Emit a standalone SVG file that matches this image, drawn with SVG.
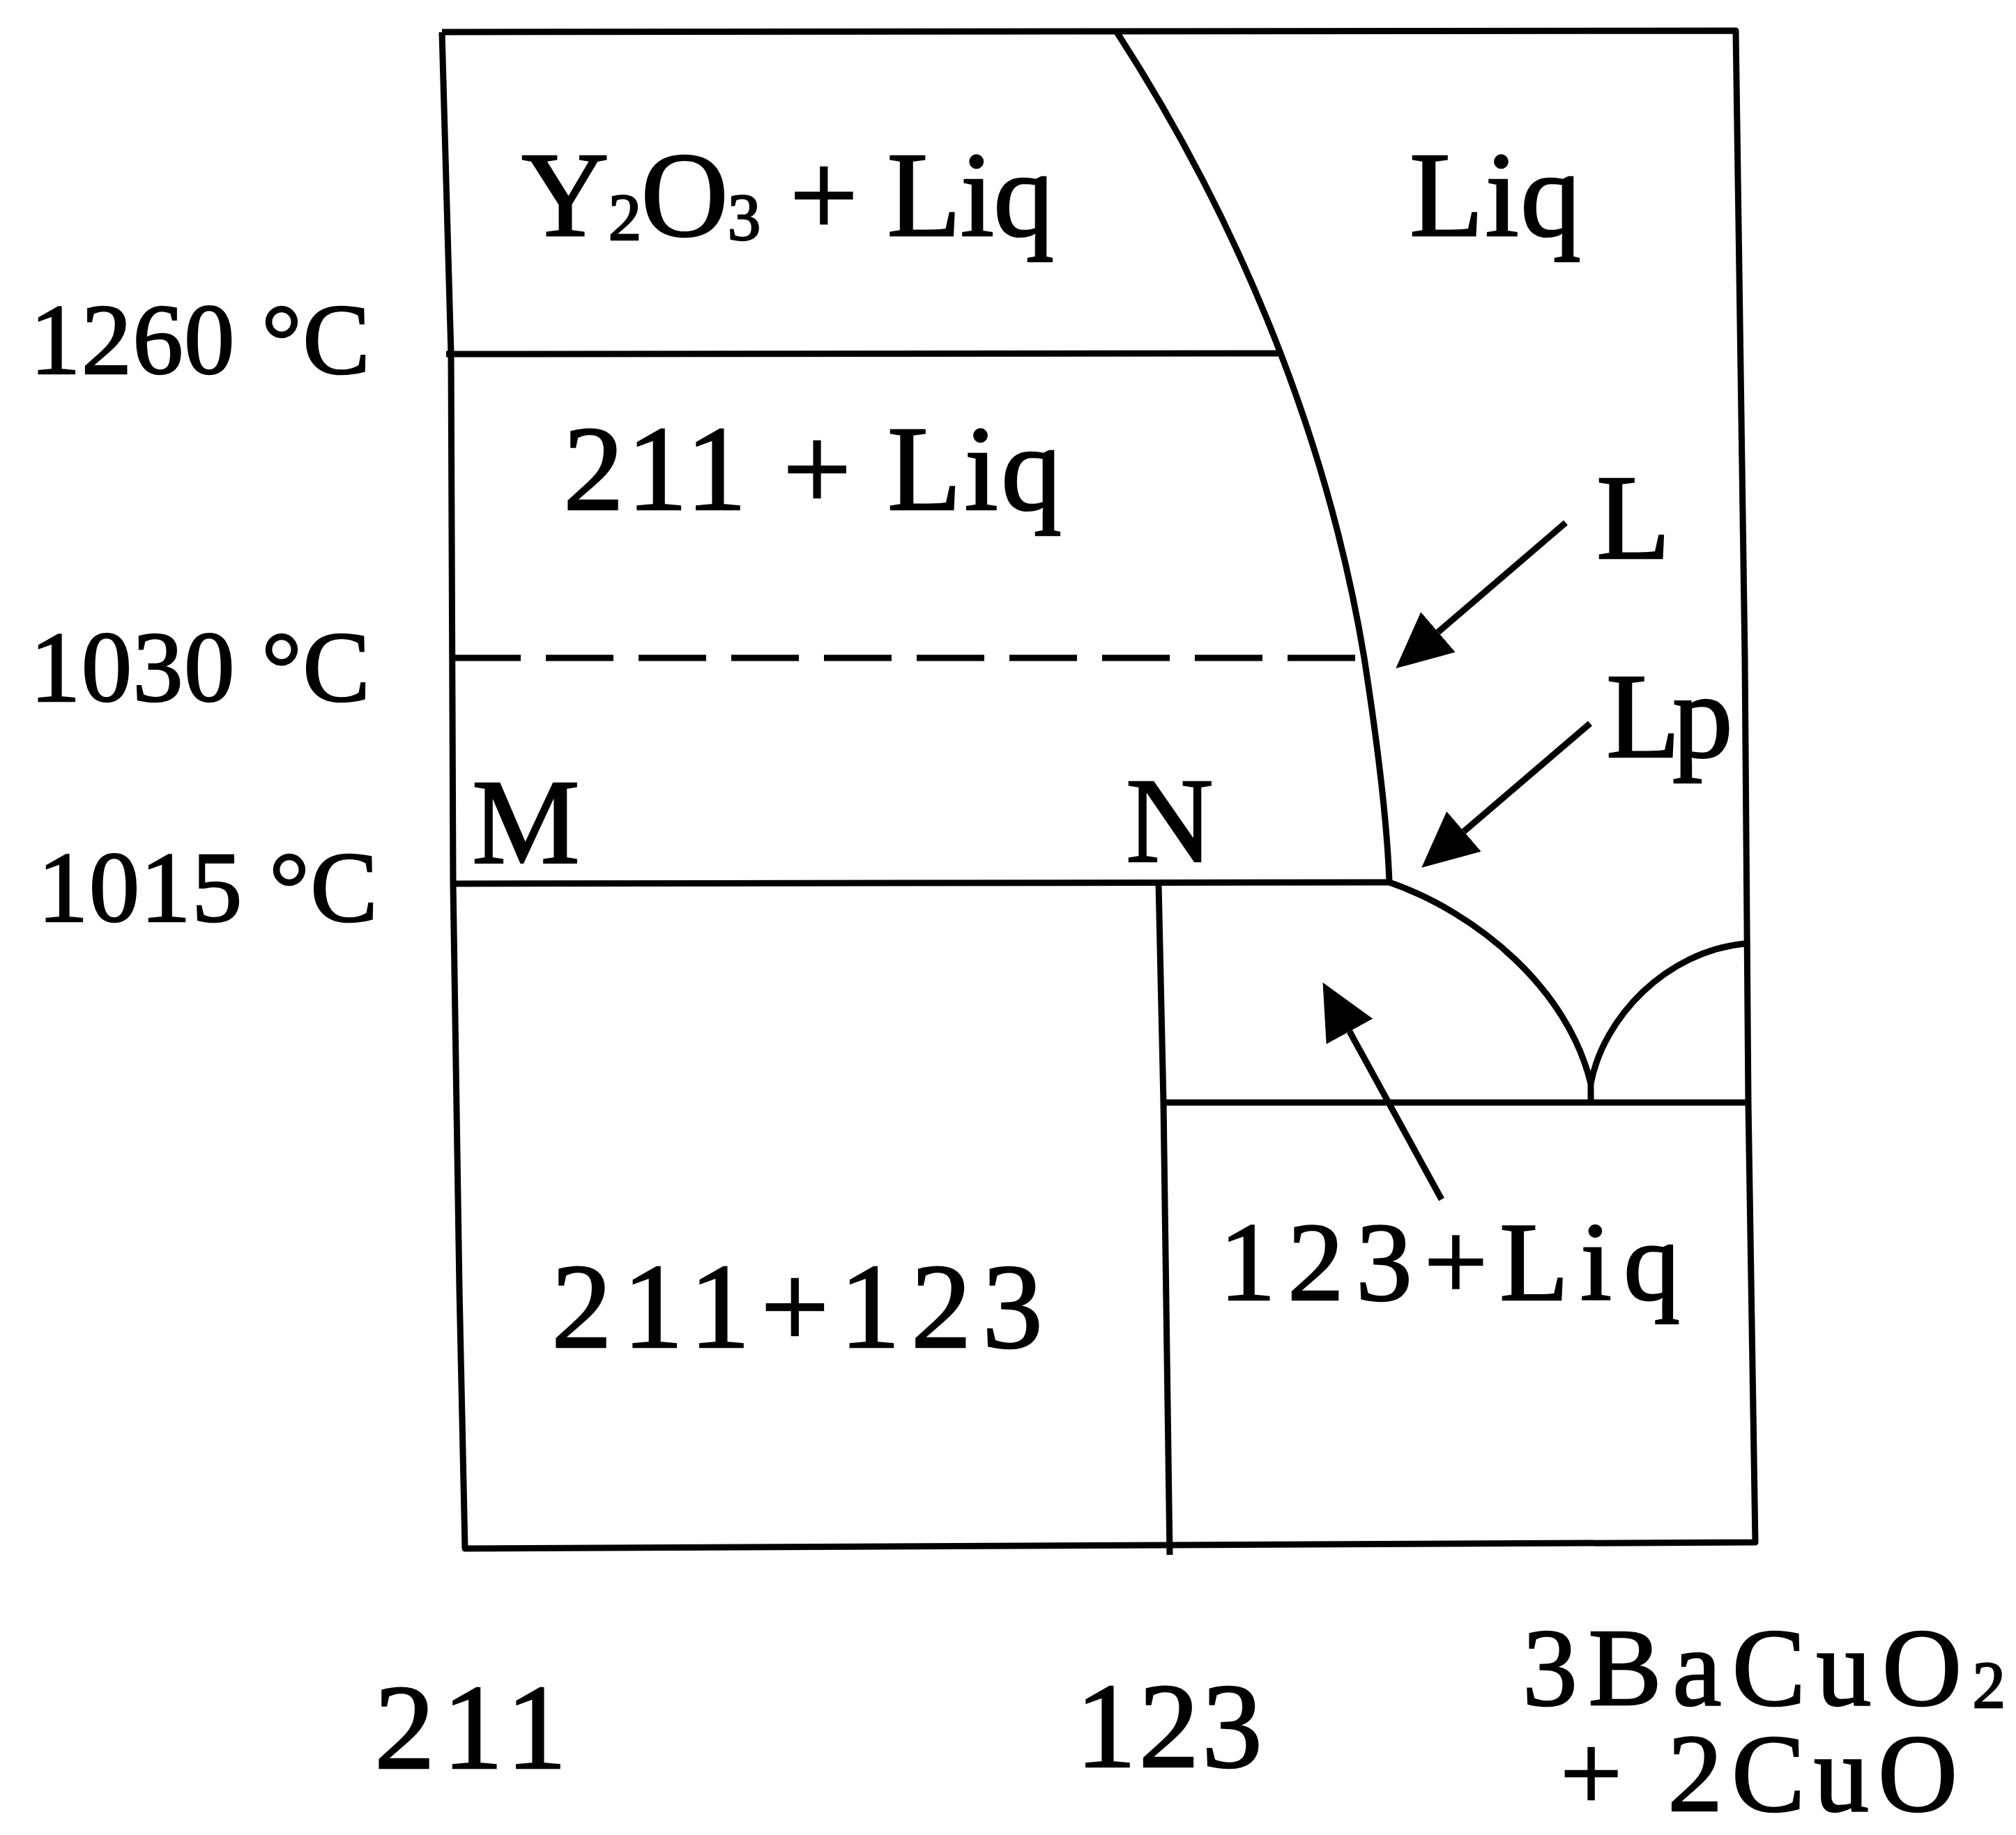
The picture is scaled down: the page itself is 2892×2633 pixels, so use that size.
<svg xmlns="http://www.w3.org/2000/svg" width="2892" height="2633" viewBox="0 0 2892 2633">
<style>
.ln{fill:none;stroke:#000;stroke-width:9;stroke-linejoin:round;stroke-linecap:butt}
.dash{stroke-dasharray:97 36}
.t{font-family:"Liberation Serif","DejaVu Serif",serif;fill:#000;stroke:#000;stroke-width:2.5;font-size:174px}
.tc{font-size:145px}
.br{font-size:158px}
.sub{font-size:95px}
</style>
<defs>
<marker id="ah" markerUnits="userSpaceOnUse" markerWidth="82" markerHeight="78" refX="0" refY="38" orient="auto" viewBox="0 0 82 78">
<path d="M0,0 L80,38 L0,76 Z" fill="#000"/>
</marker>
</defs>
<rect width="2892" height="2633" fill="#fff"/>
<g id="frame">
<polyline class="ln" points="634,46 2490,44 2503,944 2508,1582 2518,2213 667,2222 659,1850 650,1268 647,508 634,46"/>
</g>
<g id="connectors">
<path class="ln" d="M640,508 L1837,507"/>
<path class="ln dash" d="M650,944 L1957,944"/>
<path class="ln" d="M650,1268 L1993,1266"/>
<path class="ln" d="M1602,46 C1760,290 1900,600 1957,944 C1975,1060 1990,1180 1993,1266"/>
<path class="ln" d="M1662,1268 L1669,1582 L1678,2231"/>
<path class="ln" d="M1669,1582 L2508,1582"/>
<path class="ln" d="M1993,1266 C2120,1310 2250,1420 2282,1555 L2282,1582"/>
<path class="ln" d="M2282,1555 C2300,1460 2390,1365 2503,1354"/>
<path class="ln" d="M2246,750 L2063,907" marker-end="url(#ah)"/>
<path class="ln" d="M2281,1038 L2100,1193" marker-end="url(#ah)"/>
<path class="ln" d="M2068,1721 L1936,1480" marker-end="url(#ah)"/>
</g>
<g id="axis-labels">
<text class="t tc" x="43" y="536" textLength="488">1260 °C</text>
<text class="t tc" x="43" y="1006" textLength="488">1030 °C</text>
<text class="t tc" x="54" y="1322" textLength="488">1015 °C</text>
<text class="t" x="537" y="2537" textLength="276">211</text>
<text class="t" x="1543" y="2535" textLength="268">123</text>
<text class="t br"><tspan x="2184" y="2446" textLength="630">3BaCuO</tspan><tspan class="sub" dy="4">2</tspan><tspan x="2238" y="2598" textLength="570">+ 2CuO</tspan></text>
</g>
<g id="region-y2o3-liq"><text class="t" x="748" y="338" textLength="764">Y<tspan class="sub" dy="6">2</tspan><tspan dy="-6">O</tspan><tspan class="sub" dy="6">3</tspan><tspan dy="-6"> + Liq</tspan></text></g>
<g id="region-liq"><text class="t" x="2022" y="338" textLength="246">Liq</text></g>
<g id="region-211-liq"><text class="t" x="808" y="731" textLength="715">211 + Liq</text></g>
<g id="label-L"><text class="t" x="2290" y="801" textLength="85">L</text></g>
<g id="label-Lp"><text class="t" x="2304" y="1086" textLength="182">Lp</text></g>
<g id="point-M"><text class="t" x="677" y="1238" textLength="114">M</text></g>
<g id="point-N"><text class="t" x="1615" y="1236" textLength="103">N</text></g>
<g id="region-123-liq"><text class="t" x="1749" y="1865" style="font-size:162px" textLength="661">123+Liq</text></g>
<g id="region-211-123"><text class="t" x="791" y="1933" textLength="705">211+123</text></g>
</svg>
